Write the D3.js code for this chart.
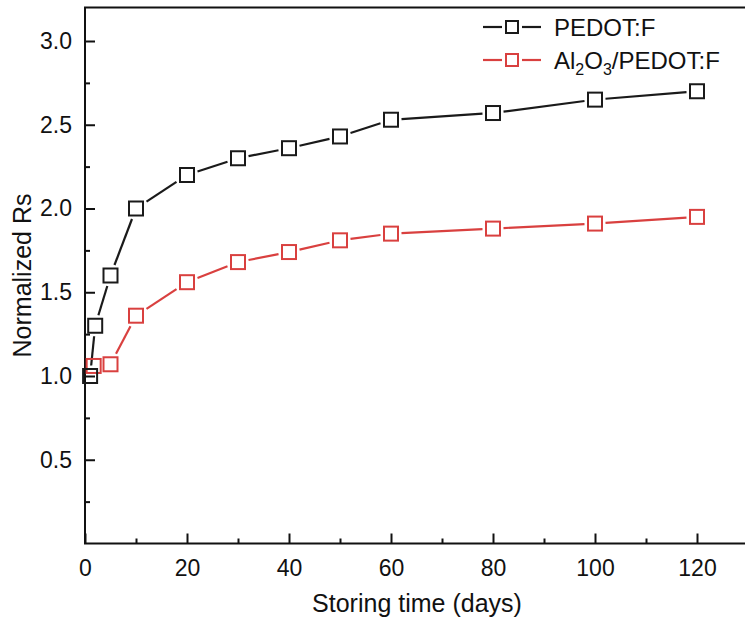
<!DOCTYPE html>
<html><head><meta charset="utf-8">
<script src="https://cdn.jsdelivr.net/npm/d3@7"></script>
<style>html,body{margin:0;padding:0;background:#fff;} text{font-family:"Liberation Sans",Arial,sans-serif;fill:#111;}</style>
</head><body><svg id="c" width="745" height="623"></svg>
<script>
const daysBlack = [1, 2, 5, 10, 20, 30, 40, 50, 60, 80, 100, 120];
const pedotF = [1.0, 1.3, 1.6, 2.0, 2.2, 2.3, 2.36, 2.43, 2.53, 2.57, 2.65, 2.70];
const daysRed = [1.7, 5, 10, 20, 30, 40, 50, 60, 80, 100, 120];
const alPedotF = [1.06, 1.07, 1.36, 1.56, 1.68, 1.74, 1.81, 1.85, 1.88, 1.91, 1.95];
const xTicks = [0, 20, 40, 60, 80, 100, 120];
const yTicks = [0.5, 1.0, 1.5, 2.0, 2.5, 3.0];
const seriesNames = ["PEDOT:F", "Al2O3/PEDOT:F"];
const seriesColors = ["#1a1a1a", "#d9403f"];

const svg = d3.select("#c");
const x = d3.scaleLinear().domain([0, 130]).range([85, 748]);
const y = d3.scaleLinear().domain([0, 3.2]).range([543.5, 7.5]);

// frame
svg.append("path").attr("d", `M${x(130)},${y(3.2)}H${x(0)}V${y(0)}H${x(130)}`)
  .attr("fill", "none").attr("stroke", "#111").attr("stroke-width", 2);

// x axis
const xAxis = d3.axisBottom(x).tickValues(xTicks).tickSize(-10).tickFormat(d3.format("d")).tickPadding(16);
const gx = svg.append("g").attr("transform", `translate(0,${y(0)})`).call(xAxis);
gx.select(".domain").remove();
gx.selectAll("line").attr("stroke", "#111").attr("stroke-width", 2);
gx.selectAll("text").attr("font-size", 23).attr("fill", "#111");
const gxm = svg.append("g").attr("transform", `translate(0,${y(0)})`)
  .call(d3.axisBottom(x).tickValues(d3.range(10, 130, 20)).tickSize(-5).tickFormat(""));
gxm.select(".domain").remove();
gxm.selectAll("line").attr("stroke", "#111").attr("stroke-width", 2);

// y axis
const yAxis = d3.axisLeft(y).tickValues(yTicks).tickSize(-10).tickFormat(d3.format(".1f")).tickPadding(13);
const gy = svg.append("g").attr("transform", `translate(${x(0)},0)`).call(yAxis);
gy.select(".domain").remove();
gy.selectAll("line").attr("stroke", "#111").attr("stroke-width", 2);
gy.selectAll("text").attr("font-size", 23).attr("fill", "#111");
const gym = svg.append("g").attr("transform", `translate(${x(0)},0)`)
  .call(d3.axisLeft(y).tickValues([0.25, 0.75, 1.25, 1.75, 2.25, 2.75]).tickSize(-5).tickFormat(""));
gym.select(".domain").remove();
gym.selectAll("line").attr("stroke", "#111").attr("stroke-width", 2);

// titles
svg.append("text").attr("x", 417).attr("y", 612).attr("text-anchor", "middle")
  .attr("font-size", 25).text("Storing time (days)");
svg.append("text").attr("transform", `translate(31,${(y(0)+y(3.2))/2}) rotate(-90)`)
  .attr("text-anchor", "middle").attr("font-size", 25).text("Normalized Rs");

// series: segments trimmed around markers (gap), then markers
const GAP = 10.5;
function drawSeries(xs, vals, color) {
  const pts = xs.map((d, i) => [x(d), y(vals[i])]);
  const g = svg.append("g");
  for (let i = 0; i < pts.length - 1; i++) {
    const [x0, y0] = pts[i], [x1, y1] = pts[i + 1];
    const dx = x1 - x0, dy = y1 - y0;
    const m = Math.max(Math.abs(dx), Math.abs(dy));
    const t = GAP / m;
    if (t >= 0.5) continue;
    g.append("line").attr("x1", x0 + dx * t).attr("y1", y0 + dy * t)
      .attr("x2", x1 - dx * t).attr("y2", y1 - dy * t)
      .attr("stroke", color).attr("stroke-width", 2.2);
  }
  return pts;
}
const p2 = drawSeries(daysRed, alPedotF, seriesColors[1]);
const p1 = drawSeries(daysBlack, pedotF, seriesColors[0]);
function drawMarkers(pts, color) {
  svg.append("g").selectAll("rect").data(pts).join("rect")
    .attr("x", d => d[0] - 7).attr("y", d => d[1] - 7).attr("width", 14).attr("height", 14)
    .attr("fill", "#fff").attr("fill-opacity", 0).attr("stroke", color).attr("stroke-width", 2);
}
drawMarkers(p2, seriesColors[1]);
drawMarkers(p1, seriesColors[0]);

// legend
const leg = svg.append("g");
[27, 60].forEach((ly, i) => {
  const c = seriesColors[i];
  leg.append("line").attr("x1", 483).attr("x2", 502).attr("y1", ly).attr("y2", ly).attr("stroke", c).attr("stroke-width", 2.2);
  leg.append("line").attr("x1", 522).attr("x2", 541).attr("y1", ly).attr("y2", ly).attr("stroke", c).attr("stroke-width", 2.2);
  leg.append("rect").attr("x", 506).attr("y", ly - 6).attr("width", 12).attr("height", 12).attr("fill", "#fff").attr("stroke", c).attr("stroke-width", 2);
});
leg.append("text").attr("x", 554).attr("y", 36).attr("font-size", 24).text(seriesNames[0]);
const t2 = leg.append("text").attr("x", 554).attr("y", 69).attr("font-size", 24);
t2.append("tspan").text("Al");
t2.append("tspan").attr("font-size", 16).attr("dy", 6).text("2");
t2.append("tspan").attr("dy", -6).text("O");
t2.append("tspan").attr("font-size", 16).attr("dy", 6).text("3");
t2.append("tspan").attr("dy", -6).text("/PEDOT:F");
</script></body></html>
